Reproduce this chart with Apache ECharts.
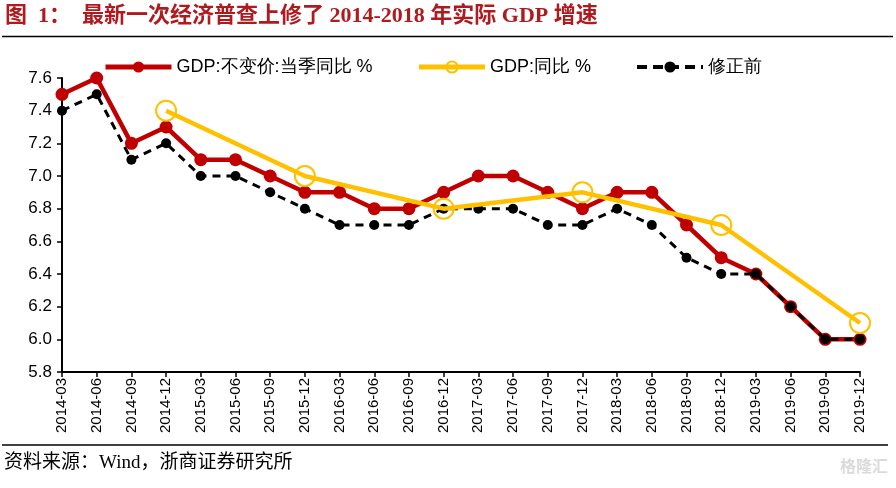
<!DOCTYPE html>
<html><head><meta charset="utf-8">
<script src="https://cdn.jsdelivr.net/npm/echarts@6/dist/echarts.min.js"></script>
<style>html,body{margin:0;padding:0;background:#fff}#c{width:896px;height:488px}</style>
</head><body><div id="c"></div>
<script>
const categories = ['2014-03','2014-06','2014-09','2014-12','2015-03','2015-06','2015-09','2015-12','2016-03','2016-06','2016-09','2016-12','2017-03','2017-06','2017-09','2017-12','2018-03','2018-06','2018-09','2018-12','2019-03','2019-06','2019-09','2019-12'];
const quarterly = [7.5,7.6,7.2,7.3,7.1,7.1,7.0,6.9,6.9,6.8,6.8,6.9,7.0,7.0,6.9,6.8,6.9,6.9,6.7,6.5,6.4,6.2,6.0,6.0];
const annual = [null,null,null,7.4,null,null,null,7.0,null,null,null,6.8,null,null,null,6.9,null,null,null,6.7,null,null,null,6.1];
const beforeRevision = [7.4,7.5,7.1,7.2,7.0,7.0,6.9,6.8,6.7,6.7,6.7,6.8,6.8,6.8,6.7,6.7,6.8,6.7,6.5,6.4,6.4,6.2,6.0,6.0];
const yTicks = {min:5.8, max:7.6, interval:0.2};

const narrow = "'Liberation Sans Narrow','Liberation Sans',Arial,sans-serif";
const chart = echarts.init(document.getElementById('c'));
chart.setOption({
  animation:false,
  backgroundColor:'#fff',
  graphic:[
    {type:'text', left:5, top:5, style:{text:'图  1：  最新一次经济普查上修了 2014-2018 年实际 GDP 增速', font:"bold 22px 'Liberation Serif','Noto Sans CJK SC',serif", fill:'#B01A1F'}},
    {type:'line', shape:{x1:2,y1:36.5,x2:893,y2:36.5}, style:{stroke:'#000', lineWidth:1.5}},
    {type:'line', shape:{x1:2,y1:445,x2:888,y2:445}, style:{stroke:'#000', lineWidth:1.5}},
    {type:'text', left:4, top:454, style:{text:'资料来源：Wind，浙商证券研究所', font:"19px 'Liberation Serif','Noto Sans CJK SC',serif", fill:'#000'}},
    {type:'text', right:8, top:458, style:{text:'格隆汇', font:"bold 16px 'Noto Sans CJK SC',sans-serif", fill:'rgba(150,150,150,0.35)'}}
  ],
  legend:{
    top:53, left:98, itemWidth:66, itemHeight:14, itemGap:44,
    textStyle:{fontFamily:narrow, fontSize:18, color:'#000'},
    data:[
      {name:'GDP:不变价:当季同比 %', lineStyle:{width:5}},
      {name:'GDP:同比 %', lineStyle:{width:5}},
      {name:'修正前', lineStyle:{width:4, type:[10,6]}}
    ]
  },
  grid:{left:62, right:36, top:78, bottom:116},
  xAxis:{
    type:'category', data:categories, boundaryGap:false,
    axisLine:{lineStyle:{color:'#000', width:2}},
    axisTick:{show:true, inside:false, length:5, alignWithLabel:true, lineStyle:{color:'#000', width:1.5}},
    axisLabel:{rotate:90, interval:0, color:'#000', fontFamily:narrow, fontSize:15, margin:6},
    splitLine:{show:false}
  },
  yAxis:{
    type:'value', min:yTicks.min, max:yTicks.max, interval:yTicks.interval,
    axisLine:{show:true, lineStyle:{color:'#000', width:2}},
    axisTick:{show:true, length:5, lineStyle:{color:'#000', width:1.5}},
    axisLabel:{color:'#000', fontFamily:narrow, fontSize:17, margin:10, formatter:v=>v.toFixed(1)},
    splitLine:{show:false}
  },
  series:[
    {name:'GDP:不变价:当季同比 %', type:'line', data:quarterly, symbol:'circle', symbolSize:13,
     lineStyle:{color:'#C00000', width:4.5}, itemStyle:{color:'#C00000'}, z:2},
    {name:'GDP:同比 %', type:'line', data:annual, connectNulls:true, symbol:'circle', symbolSize:20,
     lineStyle:{color:'#FFC000', width:4.5}, itemStyle:{color:'rgba(255,255,255,0)', borderColor:'#FFC000', borderWidth:2}, z:4},
    {name:'修正前', type:'line', data:beforeRevision, symbol:'circle', symbolSize:10,
     lineStyle:{color:'#000', width:3, type:[8,6]}, itemStyle:{color:'#000'}, z:3}
  ]
});
</script></body></html>
